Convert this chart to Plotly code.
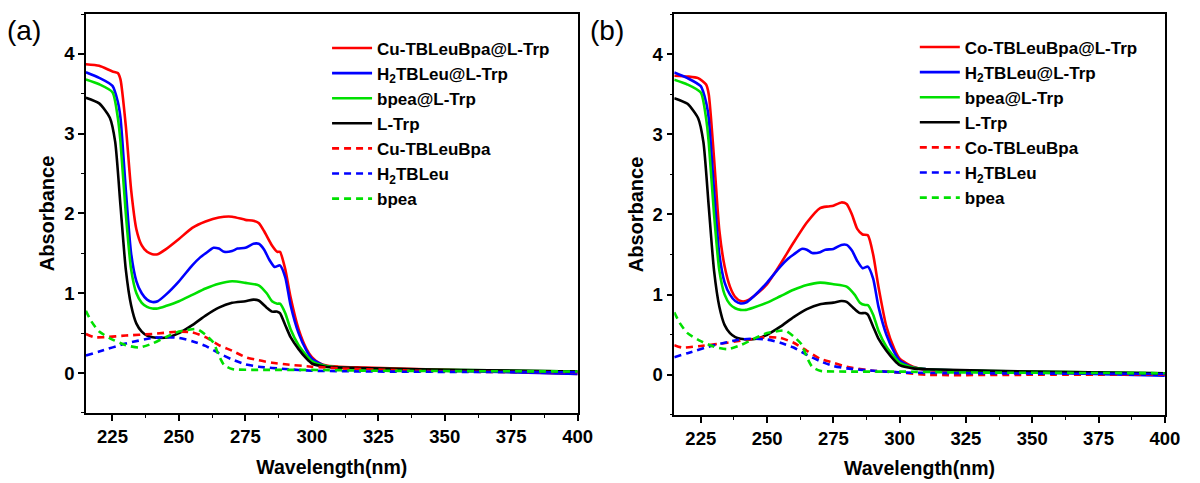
import plotly.graph_objects as go

# ---------------- Panel (a) data ----------------
a_red_x = [215, 220, 225, 227, 228, 230, 232, 234, 236, 238, 240, 242, 245, 250, 255, 260, 265, 270, 275, 278, 280, 282, 285, 287, 288, 290, 292, 295, 298, 300, 303, 306, 310, 320, 350, 400]
a_red_y = [3.87, 3.85, 3.78, 3.76, 3.68, 3.1, 2.3, 1.8, 1.6, 1.52, 1.49, 1.49, 1.55, 1.68, 1.82, 1.9, 1.95, 1.96, 1.92, 1.91, 1.88, 1.78, 1.6, 1.52, 1.52, 1.3, 0.95, 0.55, 0.3, 0.2, 0.12, 0.09, 0.08, 0.07, 0.04, -0.01]

blue_x = [215, 220, 225, 227, 228, 230, 232, 234, 236, 238, 240, 242, 245, 250, 255, 258, 260, 263, 265, 267, 270, 272, 275, 278, 280, 282, 284, 286, 288, 290, 292, 295, 298, 300, 305, 310, 350, 400]
blue_y = [3.77, 3.7, 3.6, 3.4, 3.2, 2.3, 1.5, 1.15, 1.0, 0.92, 0.89, 0.9, 0.98, 1.15, 1.35, 1.45, 1.5, 1.57, 1.56, 1.52, 1.53, 1.56, 1.57, 1.62, 1.62, 1.55, 1.42, 1.33, 1.35, 1.2, 0.85, 0.5, 0.28, 0.18, 0.09, 0.07, 0.03, -0.01]

green_x = [215, 220, 225, 227, 228, 230, 232, 234, 236, 238, 240, 242, 245, 250, 255, 260, 265, 270, 275, 280, 283, 285, 287, 288, 290, 292, 295, 298, 300, 305, 310, 350, 400]
green_y = [3.68, 3.62, 3.52, 3.2, 2.9, 2.0, 1.3, 1.0, 0.88, 0.83, 0.81, 0.81, 0.84, 0.9, 0.98, 1.06, 1.12, 1.15, 1.13, 1.1, 1.0, 0.9, 0.87, 0.87, 0.75, 0.55, 0.35, 0.22, 0.15, 0.09, 0.07, 0.04, 0.02]

black_x = [215, 220, 224, 226, 228, 230, 232, 234, 236, 238, 240, 243, 246, 250, 255, 260, 265, 270, 275, 278, 280, 283, 285, 287, 288, 290, 292, 295, 298, 300, 305, 310, 350, 400]
black_y = [3.45, 3.38, 3.2, 2.9, 2.1, 1.3, 0.85, 0.62, 0.52, 0.47, 0.45, 0.44, 0.45, 0.5, 0.6, 0.72, 0.82, 0.88, 0.9, 0.92, 0.91, 0.82, 0.77, 0.77, 0.75, 0.6, 0.45, 0.3, 0.18, 0.12, 0.08, 0.07, 0.04, 0.02]

a_red_d_x = [215, 218, 222, 230, 240, 250, 255, 260, 265, 270, 275, 280, 285, 290, 300, 310, 350, 400]
a_red_d_y = [0.49, 0.45, 0.45, 0.47, 0.49, 0.52, 0.51, 0.45, 0.35, 0.28, 0.2, 0.16, 0.13, 0.11, 0.08, 0.06, 0.02, 0.01]

blue_d_x = [215, 220, 230, 240, 245, 250, 255, 260, 265, 270, 275, 280, 290, 300, 320, 400]
blue_d_y = [0.22, 0.27, 0.37, 0.44, 0.45, 0.44, 0.4, 0.34, 0.25, 0.17, 0.11, 0.08, 0.05, 0.03, 0.02, 0.01]

green_d_x = [215, 217, 220, 225, 230, 235, 240, 245, 250, 255, 257, 260, 263, 265, 267, 270, 280, 300, 320, 400]
green_d_y = [0.78, 0.65, 0.52, 0.42, 0.35, 0.32, 0.37, 0.45, 0.52, 0.55, 0.55, 0.48, 0.38, 0.22, 0.1, 0.05, 0.04, 0.04, 0.03, 0.02]

# ---------------- Panel (b) data ----------------
b_red_x = [215, 220, 224, 227, 228, 230, 232, 234, 236, 238, 240, 242, 245, 250, 255, 260, 265, 270, 273, 275, 278, 280, 282, 284, 286, 288, 290, 292, 295, 298, 300, 305, 310, 350, 400]
b_red_y = [3.73, 3.72, 3.7, 3.62, 3.5, 2.7, 1.8, 1.35, 1.1, 0.97, 0.92, 0.92, 0.98, 1.13, 1.38, 1.65, 1.9, 2.08, 2.1, 2.11, 2.15, 2.13, 2.0, 1.82, 1.75, 1.74, 1.5, 1.1, 0.6, 0.32, 0.2, 0.1, 0.06, 0.03, 0.01]

b_red_d_x = [215, 218, 225, 235, 245, 250, 255, 260, 265, 270, 275, 280, 290, 300, 310, 350, 400]
b_red_d_y = [0.37, 0.34, 0.36, 0.4, 0.45, 0.47, 0.46, 0.4, 0.3, 0.2, 0.15, 0.1, 0.05, 0.03, 0.0, 0.0, 0.0]

RED, BLUE, GREEN, BLACK = "#ff0000", "#0000ff", "#00e000", "#000000"
DASH = "7px,5px"

a_series = [
    ("Cu-TBLeuBpa@L-Trp", a_red_x, a_red_y, RED, "solid"),
    ("H<sub>2</sub>TBLeu@L-Trp", blue_x, blue_y, BLUE, "solid"),
    ("bpea@L-Trp", green_x, green_y, GREEN, "solid"),
    ("L-Trp", black_x, black_y, BLACK, "solid"),
    ("Cu-TBLeuBpa", a_red_d_x, a_red_d_y, RED, DASH),
    ("H<sub>2</sub>TBLeu", blue_d_x, blue_d_y, BLUE, DASH),
    ("bpea", green_d_x, green_d_y, GREEN, DASH),
]
b_series = [
    ("Co-TBLeuBpa@L-Trp", b_red_x, b_red_y, RED, "solid"),
    ("H<sub>2</sub>TBLeu@L-Trp", blue_x, blue_y, BLUE, "solid"),
    ("bpea@L-Trp", green_x, green_y, GREEN, "solid"),
    ("L-Trp", black_x, black_y, BLACK, "solid"),
    ("Co-TBLeuBpa", b_red_d_x, b_red_d_y, RED, DASH),
    ("H<sub>2</sub>TBLeu", blue_d_x, blue_d_y, BLUE, DASH),
    ("bpea", green_d_x, green_d_y, GREEN, DASH),
]

x_ticks = [225, 250, 275, 300, 325, 350, 375, 400]
y_ticks = [0, 1, 2, 3, 4]

fig = go.Figure()
for series, xa, ya, leg in [(a_series, "x", "y", "legend"), (b_series, "x2", "y2", "legend2")]:
    for name, xs, ys, col, dash in series:
        fig.add_trace(go.Scatter(
            x=xs, y=ys, mode="lines", name=name,
            line=dict(color=col, width=2.6, dash=dash, shape="spline", smoothing=0.6),
            xaxis=xa, yaxis=ya, legend=leg,
        ))

FONT = "Liberation Sans, Arial, sans-serif"
axis_common = dict(
    showline=True, linecolor="black", linewidth=1.5, mirror=True,
    ticks="outside", ticklen=6, tickwidth=1.5, tickcolor="black",
    showgrid=False, zeroline=False,
    tickfont=dict(family=FONT, size=18.5, color="black", weight="bold"),
    minor=dict(ticks="outside", ticklen=3, tickwidth=1.2, tickcolor="black"),
)
xa_common = dict(axis_common, range=[215, 400], tickvals=x_ticks, minor=dict(axis_common["minor"], dtick=12.5, tick0=212.5),
                 title=dict(text="Wavelength(nm)", font=dict(family=FONT, size=19.5, color="black", weight="bold"), standoff=14))
ya_common = dict(axis_common, range=[-0.5, 4.5], tickvals=y_ticks, minor=dict(axis_common["minor"], dtick=0.5, tick0=0),
                 title=dict(text="Absorbance", font=dict(family=FONT, size=20, color="black", weight="bold"), standoff=4))

leg_common = dict(
    font=dict(family=FONT, size=17, color="black", weight="bold"),
    bgcolor="rgba(0,0,0,0)", borderwidth=0, tracegroupgap=0,
    xanchor="left", yanchor="top", itemwidth=40,
)

fig.update_layout(
    width=1200, height=483,
    margin=dict(l=0, r=0, t=0, b=0),
    plot_bgcolor="white", paper_bgcolor="white",
    showlegend=True,
    xaxis=dict(xa_common, domain=[0.0725, 0.4875], anchor="y"),
    yaxis=dict(ya_common, domain=[0.145, 0.971], anchor="x"),
    xaxis2=dict(xa_common, domain=[0.569, 0.983], anchor="y2"),
    yaxis2=dict(ya_common, domain=[0.141, 0.971], anchor="x2"),
    legend=dict(leg_common, x=0.276, y=0.937),
    legend2=dict(leg_common, x=0.772, y=0.939),
    annotations=[
        dict(text="(a)", x=0.004, y=0.936, xref="paper", yref="paper", xanchor="left", yanchor="middle",
             showarrow=False, font=dict(family=FONT, size=28, color="black")),
        dict(text="(b)", x=0.496, y=0.936, xref="paper", yref="paper", xanchor="left", yanchor="middle",
             showarrow=False, font=dict(family=FONT, size=28, color="black")),
    ],
)

fig.write_html("out.html")
